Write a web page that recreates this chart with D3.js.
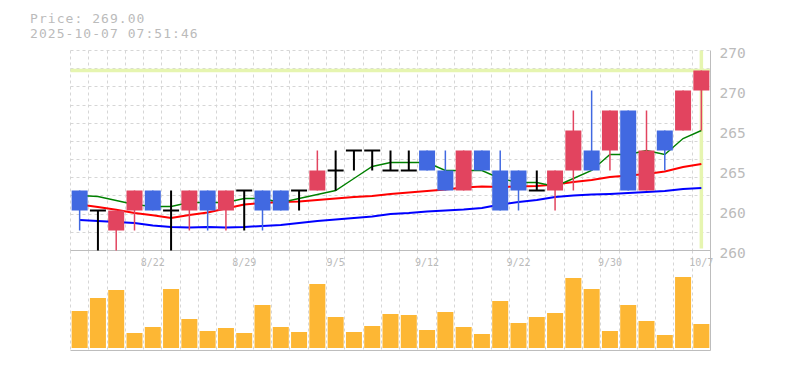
<!DOCTYPE html>
<html>
<head>
<meta charset="utf-8">
<script src="https://cdn.jsdelivr.net/npm/d3@7"></script>
<style>
html,body{margin:0;padding:0;background:#fff;}
svg{display:block;}
text{font-family:"DejaVu Sans Mono",monospace;fill:#bbbbbb;}
</style>
</head>
<body>
<svg id="chart" width="785" height="370"></svg>
<script>
// ---- data ----
const dates = ["8/18","8/19","8/20","8/21","8/22","8/25","8/26","8/27","8/28","8/29",
  "9/1","9/2","9/3","9/4","9/5","9/8","9/9","9/10","9/11","9/12",
  "9/16","9/17","9/18","9/19","9/22","9/24","9/25","9/26","9/29","9/30",
  "10/1","10/2","10/3","10/6","10/7"];
const opens  = [263,262,261,262,263,262,262,263,262,263,263,263,263,263,264,265,265,264,264,265,264,263,265,264,264,263,263,264,265,265,267,263,266,266,268];
const highs  = [263,262,262,263,263,263,263,263,263,263,263,263,263,265,265,265,265,265,265,265,265,265,265,265,264,264,264,267,268,267,267,267,266,268,269];
const lows   = [261,260,260,261,262,260,261,261,261,261,261,262,262,263,263,264,264,264,264,264,263,263,264,262,262,263,262,263,264,264,263,263,264,266,266];
const closes = [262,262,262,263,262,262,263,262,263,263,262,262,263,264,264,265,265,264,264,264,263,265,264,262,263,263,264,266,264,267,263,265,265,268,269];
const ma5  = [262.75,262.7,262.5,262.3,262.2,262.2,262.4,262.4,262.4,262.6,262.6,262.4,262.6,262.8,263.0,263.6,264.2,264.4,264.4,264.4,264.0,264.0,264.0,263.6,263.4,263.4,263.2,263.6,264.0,264.8,264.8,265.0,264.8,265.6,266.0];
const ma25 = [262.3,262.18,262.04,261.88,261.76,261.63,261.78,261.9,262.1,262.3,262.38,262.42,262.45,262.53,262.6,262.67,262.73,262.83,262.9,262.97,263.05,263.15,263.2,263.17,263.2,263.22,263.3,263.43,263.53,263.67,263.75,263.83,263.95,264.17,264.33];
const ma75 = [261.53,261.48,261.43,261.37,261.25,261.17,261.15,261.17,261.15,261.17,261.23,261.28,261.38,261.47,261.55,261.62,261.7,261.82,261.87,261.95,262.0,262.05,262.13,262.3,262.42,262.53,262.67,262.75,262.8,262.83,262.87,262.92,262.97,263.08,263.13];
const volumes = [3700,5000,5800,1500,2100,5900,2900,1700,2000,1500,4300,2100,1600,6400,3100,1600,2200,3400,3300,1800,3600,2100,1400,4700,2500,3100,3500,7000,5900,1700,4300,2700,1300,7100,2400];
const yTickValues = [270,268,266,264,262,260];
const yTickLabels = ["270","270","265","265","260","260"];
const xTickEvery = 5;
const currentPrice = 269.00;
const titleLines = ["Price: 269.00","2025-10-07 07:51:46"];

// ---- layout ----
const svg = d3.select("#chart");
const left = 70.5, right = 710.5;
const pTop = 50.5, pBot = 250.5, vTop = 250.5, vBot = 350.5;

const x = d3.scaleBand().domain(dates).range([left, right]).padding(0);
const bw = x.bandwidth();
const cx = d => x(d) + bw / 2;
const bodyW = 16;
const y = d3.scaleLinear().domain([260, 270]).range([pBot, pTop]);
const yv = d3.scaleLinear().domain([0, 8800]).range([348, 260]);
const crisp = v => Math.round(v - 0.5) + 0.5;

const cRed = "#e2445f", cBlue = "#4169e1";

// ---- grid ----
const grid = svg.append("g").attr("stroke", "#d6d6d6").attr("stroke-dasharray", "3,3").attr("stroke-width", 1);
d3.range(11).forEach(i => {
  const yy = crisp(pTop + i * (pBot - pTop) / 11);
  grid.append("line").attr("x1", left).attr("x2", right).attr("y1", yy).attr("y2", yy);
});
dates.forEach(d => {
  const xx = crisp(x(d));
  grid.append("line").attr("x1", xx).attr("x2", xx).attr("y1", pTop).attr("y2", pBot);
  grid.append("line").attr("x1", xx).attr("x2", xx).attr("y1", vTop).attr("y2", vBot);
});

// ---- current price markers ----
const last = dates[dates.length - 1];
svg.append("line").attr("x1", left).attr("x2", right).attr("y1", y(currentPrice)).attr("y2", y(currentPrice))
  .attr("stroke", "#e6f5b0").attr("stroke-width", 3.5);
svg.append("line").attr("x1", cx(last)).attr("x2", cx(last)).attr("y1", pTop).attr("y2", pBot - 2)
  .attr("stroke", "#e6f5b0").attr("stroke-width", 3.5);

// ---- borders ----
const border = svg.append("g").attr("stroke", "#bdbdbd").attr("stroke-width", 1);
border.append("line").attr("x1", left).attr("x2", right).attr("y1", pBot).attr("y2", pBot);
border.append("line").attr("x1", left).attr("x2", right).attr("y1", vBot).attr("y2", vBot);
border.append("line").attr("x1", right).attr("x2", right).attr("y1", pTop).attr("y2", vBot);

// ---- moving averages ----
const idx = d3.range(dates.length);
const lineGen = arr => d3.line().x(i => cx(dates[i])).y(i => y(arr[i]))(idx);
svg.append("path").attr("d", lineGen(ma75)).attr("fill", "none").attr("stroke", "#0000ff").attr("stroke-width", 2);
svg.append("path").attr("d", lineGen(ma25)).attr("fill", "none").attr("stroke", "#ff0000").attr("stroke-width", 2);
svg.append("path").attr("d", lineGen(ma5)).attr("fill", "none").attr("stroke", "#008000").attr("stroke-width", 1.4);

// ---- candles ----
const cg = svg.append("g");
idx.forEach(i => {
  const d = dates[i], o = opens[i], c = closes[i], h = highs[i], l = lows[i];
  const xc = cx(d);
  if (o === c) {
    cg.append("line").attr("x1", xc).attr("x2", xc).attr("y1", y(h)).attr("y2", y(l))
      .attr("stroke", "#000").attr("stroke-width", 2);
    cg.append("line").attr("x1", xc - bodyW / 2).attr("x2", xc + bodyW / 2).attr("y1", y(o)).attr("y2", y(o))
      .attr("stroke", "#000").attr("stroke-width", 2);
  } else {
    const col = c > o ? cRed : cBlue;
    cg.append("line").attr("x1", xc).attr("x2", xc).attr("y1", y(h)).attr("y2", y(l))
      .attr("stroke", col).attr("stroke-width", 1.5);
    cg.append("rect").attr("x", xc - bodyW / 2).attr("width", bodyW)
      .attr("y", y(Math.max(o, c))).attr("height", y(Math.min(o, c)) - y(Math.max(o, c)))
      .attr("fill", col);
  }
});

// ---- volume ----
svg.append("g").selectAll("rect").data(idx).join("rect")
  .attr("x", i => cx(dates[i]) - bodyW / 2).attr("width", bodyW)
  .attr("y", i => yv(volumes[i])).attr("height", i => yv(0) - yv(volumes[i]))
  .attr("fill", "#fdb734");

// ---- axes ----
const yAxis = svg.append("g").attr("transform", `translate(${right},0)`)
  .call(d3.axisRight(y).tickValues(yTickValues).tickFormat((d, i) => yTickLabels[i]).tickSize(0).tickPadding(9));
yAxis.select(".domain").remove();
yAxis.selectAll("text").attr("dy", "0.5em").style("font-size", "14.5px").attr("fill", "#bbbbbb")
  .style("font-family", '"DejaVu Sans Mono",monospace');

const xAxis = svg.append("g").attr("transform", `translate(0,${pBot})`)
  .call(d3.axisBottom(x).tickValues(dates.filter((d, i) => (i + 1) % xTickEvery === 0)).tickSize(0).tickPadding(8));
xAxis.select(".domain").remove();
xAxis.selectAll("text").style("font-size", "10px").attr("fill", "#bbbbbb")
  .style("font-family", '"DejaVu Sans Mono",monospace');

// ---- title ----
svg.append("text").attr("x", 30).attr("y", 23).style("font-size", "13px").style("letter-spacing", "1.05px").text(titleLines[0]);
svg.append("text").attr("x", 30).attr("y", 38).style("font-size", "13px").style("letter-spacing", "1.05px").text(titleLines[1]);
</script>
</body>
</html>
